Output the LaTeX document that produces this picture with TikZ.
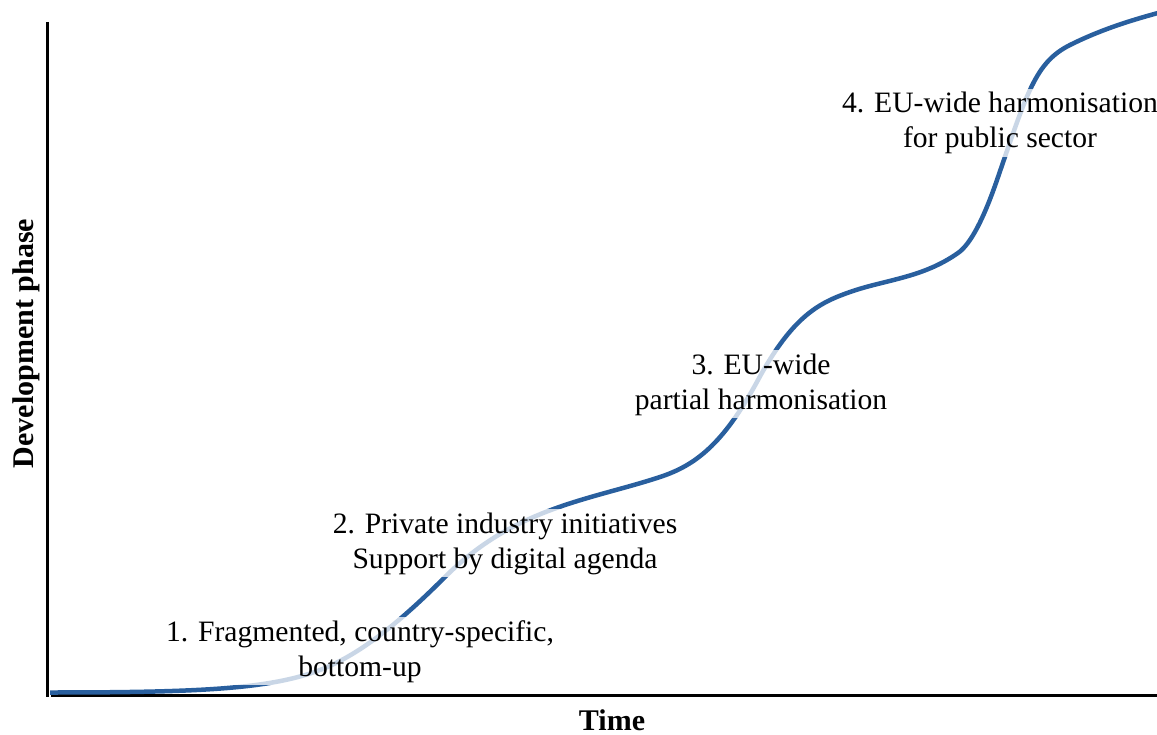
\documentclass[tikz,border=0pt]{standalone}
\usepackage{fontspec}
\setmainfont{Liberation Serif}
\definecolor{curveblue}{RGB}{41,95,158}
\begin{document}
\begin{tikzpicture}[x=1pt,y=1pt,
  lbl/.style={fill=white, fill opacity=0.75, text opacity=1, align=center, inner sep=3pt,
              font=\fontsize{29.6}{35}\selectfont},
  axlbl/.style={font=\fontsize{30}{34}\selectfont\bfseries},
  axisline/.style={line width=3pt, black},
  growth/.style={line width=4.5pt, curveblue}]
\useasboundingbox (0,0) rectangle (1157,-735);
% axes
\coordinate (ytop) at (47,-22);
\coordinate (ybot) at (47,-696.5);
\coordinate (xstart) at (51,-695);
\coordinate (xend) at (1157,-695);
\draw[axisline] (ytop) -- (ybot);
\draw[axisline] (xstart) -- (xend);
% growth curve
\draw[growth] (50,-692.5)
  .. controls (200,-692.5) and (270,-689) .. (320,-670)
  .. controls (361.7,-654.2) and (403.3,-618.7) .. (445,-577)
  .. controls (515,-507) and (590,-500.1) .. (660,-477)
  .. controls (695,-465.45) and (723,-444.75) .. (758,-380)
  .. controls (793,-315.25) and (820,-302.5) .. (850,-292)
  .. controls (886,-279.4) and (922,-278.2) .. (958,-253)
  .. controls (971,-243.9) and (984,-217.7) .. (997,-180)
  .. controls (1027,-93) and (1035,-62.5) .. (1070,-45)
  .. controls (1099,-30.5) and (1128,-21.1) .. (1158,-13);
% labels
\node[lbl, anchor=base] (p1) at (360,-676) {1. Fragmented, country-specific,\\bottom-up};
\node[lbl, anchor=base] (p2) at (505,-568) {2. Private industry initiatives\\Support by digital agenda};
\node[lbl, anchor=base] (p3) at (761,-409) {3. EU-wide\\partial harmonisation};
\node[lbl, anchor=base] (p4) at (1000,-148) {4. EU-wide harmonisation\\for public sector};
% axis labels
\node[axlbl, rotate=90, anchor=base] (ylab) at (33,-343.5) {Development phase};
\node[axlbl, anchor=base] (xlab) at (612,-730) {Time};
\end{tikzpicture}
\end{document}
